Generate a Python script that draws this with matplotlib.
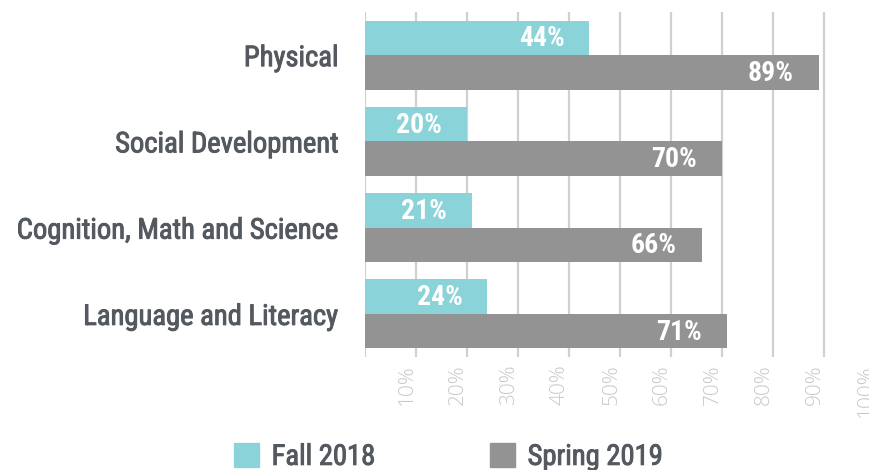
import matplotlib
matplotlib.use("Agg")
import matplotlib.pyplot as plt
import matplotlib.transforms as mtrans
import matplotlib.patheffects as pe
from matplotlib.patches import Patch
import numpy as np

categories = ["Physical", "Social Development", "Cognition, Math and Science", "Language and Literacy"]
fall_2018 = [44, 20, 21, 24]
spring_2019 = [89, 70, 66, 71]
series_names = ["Fall 2018", "Spring 2019"]
x_ticks = [0, 10, 20, 30, 40, 50, 60, 70, 80, 90, 100]
x_tick_labels = ["", "10%", "20%", "30%", "40%", "50%", "60%", "70%", "80%", "90%", "100%"]

COND = ["Roboto Condensed", "DejaVu Sans"]
LIGHT = ["Open Sans", "DejaVu Sans"]

TEAL = "#8AD3D8"
GRAY = "#939393"
DARK = "#545960"
GRID = "#D0D0D0"
TICK = "#C8C8C8"

thick = [pe.withStroke(linewidth=0.7, foreground=DARK)]

fig = plt.figure(figsize=(8.69, 4.70), dpi=100)
ax = fig.add_axes([365/869, 1-357/470, 510/869, 345/470])

y = np.arange(len(categories))
h = 0.4
ax.barh(y - h/2, fall_2018, height=h, color=TEAL, zorder=2)
ax.barh(y + h/2, spring_2019, height=h, color=GRAY, zorder=2)

for offs, vals in ((-h/2, fall_2018), (h/2, spring_2019)):
    for yi, v in zip(y + offs, vals):
        ax.annotate(f"{v}%", (v, yi), xytext=(-25, -1), textcoords="offset pixels",
                    ha="right", va="center", color="white", fontsize=20, fontweight="bold",
                    family=COND, zorder=3)

ax.set_xlim(0, 100)
ax.set_ylim(3.5, -0.5)
ax.set_yticks(y)
ax.set_yticklabels(categories, fontsize=20.6, color=DARK, family=COND)
for lab in ax.get_yticklabels():
    lab.set_path_effects(thick)
ax.tick_params(axis="y", length=0, pad=19)
ax.set_xticks(x_ticks)
ax.set_xticklabels(x_tick_labels, rotation=90, fontsize=15, color=TICK, family=LIGHT,
                   fontweight="light")
ax.tick_params(axis="x", length=0, pad=5)
off = mtrans.ScaledTranslation(-9/100, 0, fig.dpi_scale_trans)
for lab in ax.get_xticklabels():
    lab.set_transform(lab.get_transform() + off)
    lab.set_verticalalignment("top")

ax.grid(axis="x", color=GRID, linewidth=1.6, zorder=0)
ax.set_axisbelow(True)
for s in ax.spines.values():
    s.set_visible(False)

handles = [Patch(color=TEAL), Patch(color=GRAY)]
leg = fig.legend(handles, series_names, loc="center", bbox_to_anchor=(0.516, 0.028),
                 ncol=2, frameon=False, labelcolor=DARK,
                 prop={"family": COND, "size": 20.6},
                 handlelength=0.87, handleheight=0.87, handletextpad=0.45, columnspacing=4.0,
                 borderpad=0, borderaxespad=0)
for t in leg.get_texts():
    t.set_path_effects(thick)

fig.savefig("out.png", dpi=100)
